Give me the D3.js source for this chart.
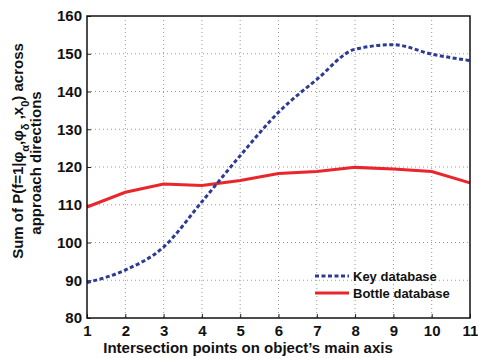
<!DOCTYPE html>
<html><head><meta charset="utf-8">
<script src="https://cdn.jsdelivr.net/npm/d3@7"></script>
<style>body{margin:0;background:#fff}svg{display:block}text{font-family:"Liberation Sans",Arial,sans-serif;font-weight:bold;fill:#111}</style>
</head><body><svg id="c" width="478" height="358"></svg>
<script>
const xValues = [1,2,3,4,5,6,7,8,9,10,11];
const keyValues = [89.4,92.7,98.8,110.8,123.0,134.5,143.2,151.2,152.4,149.9,148.2];
const bottleValues = [109.4,113.3,115.5,115.1,116.4,118.3,118.8,119.9,119.5,118.8,115.8];
const xTicks = [1,2,3,4,5,6,7,8,9,10,11];
const yTicks = [80,90,100,110,120,130,140,150,160];
const seriesNames = ["Key database","Bottle database"];
const seriesColors = ["#2e3a94","#e8262b"];

const svg = d3.select("#c");
const L=87,R=470,T=16,B=318;
const x = d3.scaleLinear().domain([1,11]).range([L,R]);
const y = d3.scaleLinear().domain([80,160]).range([B,T]);

// grid
const g = svg.append("g");
g.selectAll("line.gx").data(xTicks.slice(1,-1)).join("line")
 .attr("x1",d=>x(d)).attr("x2",d=>x(d)).attr("y1",T).attr("y2",B)
 .attr("stroke","#999").attr("stroke-width",1).attr("stroke-dasharray","1,3");
g.selectAll("line.gy").data(yTicks.slice(1,-1)).join("line")
 .attr("x1",L).attr("x2",R).attr("y1",d=>y(d)).attr("y2",d=>y(d))
 .attr("stroke","#999").attr("stroke-width",1).attr("stroke-dasharray","1,3");

// axes
const xa = svg.append("g").attr("transform",`translate(0,${B})`)
 .call(d3.axisBottom(x).tickValues(xTicks).tickSize(-4).tickPadding(7).tickFormat(d3.format("d")));
const ya = svg.append("g").attr("transform",`translate(${L},0)`)
 .call(d3.axisLeft(y).tickValues(yTicks).tickSize(-4).tickPadding(5));
[xa,ya].forEach(a=>{a.select(".domain").remove();a.selectAll("line").attr("stroke","#222");a.selectAll("text").style("font-size","15px").style("font-weight","bold").attr("fill","#111");});

// lines
const lineSmooth = d3.line().x((d,i)=>x(xValues[i])).y(d=>y(d)).curve(d3.curveMonotoneX);
const lineStraight = d3.line().x((d,i)=>x(xValues[i])).y(d=>y(d));
svg.append("path").attr("d",lineStraight(bottleValues)).attr("fill","none")
 .attr("stroke",seriesColors[1]).attr("stroke-width",3);
svg.append("path").attr("d",lineSmooth(keyValues)).attr("fill","none")
 .attr("stroke",seriesColors[0]).attr("stroke-width",3).attr("stroke-dasharray","4,2.5");

// frame
svg.append("rect").attr("x",L).attr("y",T).attr("width",R-L).attr("height",B-T)
 .attr("fill","none").attr("stroke","#111").attr("stroke-width",1.5);

// legend
const lg = svg.append("g");
seriesNames.forEach((n,i)=>{
  const yy = 276 + i*17;
  lg.append("line").attr("x1",315).attr("x2",349).attr("y1",yy).attr("y2",yy)
   .attr("stroke",seriesColors[i]).attr("stroke-width",3)
   .attr("stroke-dasharray",i===0?"4,2.5":null);
  lg.append("text").attr("x",353).attr("y",yy+4.5).style("font-size","13px").text(n);
});

// axis titles
svg.append("text").attr("x",248).attr("y",353).attr("text-anchor","middle")
 .style("font-size","15px").text("Intersection points on object\u2019s main axis");
const yt = svg.append("text").attr("transform","translate(23,151) rotate(-90)").attr("text-anchor","middle").style("font-size","15px");
yt.append("tspan").text("Sum of P(f=1|\u03c6");
yt.append("tspan").attr("baseline-shift","sub").style("font-size","11px").text("\u03b1");
yt.append("tspan").text(",\u03c6");
yt.append("tspan").attr("baseline-shift","sub").style("font-size","11px").text("\u03b4");
yt.append("tspan").text(" ,x");
yt.append("tspan").attr("baseline-shift","sub").style("font-size","11px").text("0");
yt.append("tspan").text(") across");
svg.append("text").attr("transform","translate(41,163) rotate(-90)").attr("text-anchor","middle")
 .style("font-size","15px").text("approach directions");
</script></body></html>
